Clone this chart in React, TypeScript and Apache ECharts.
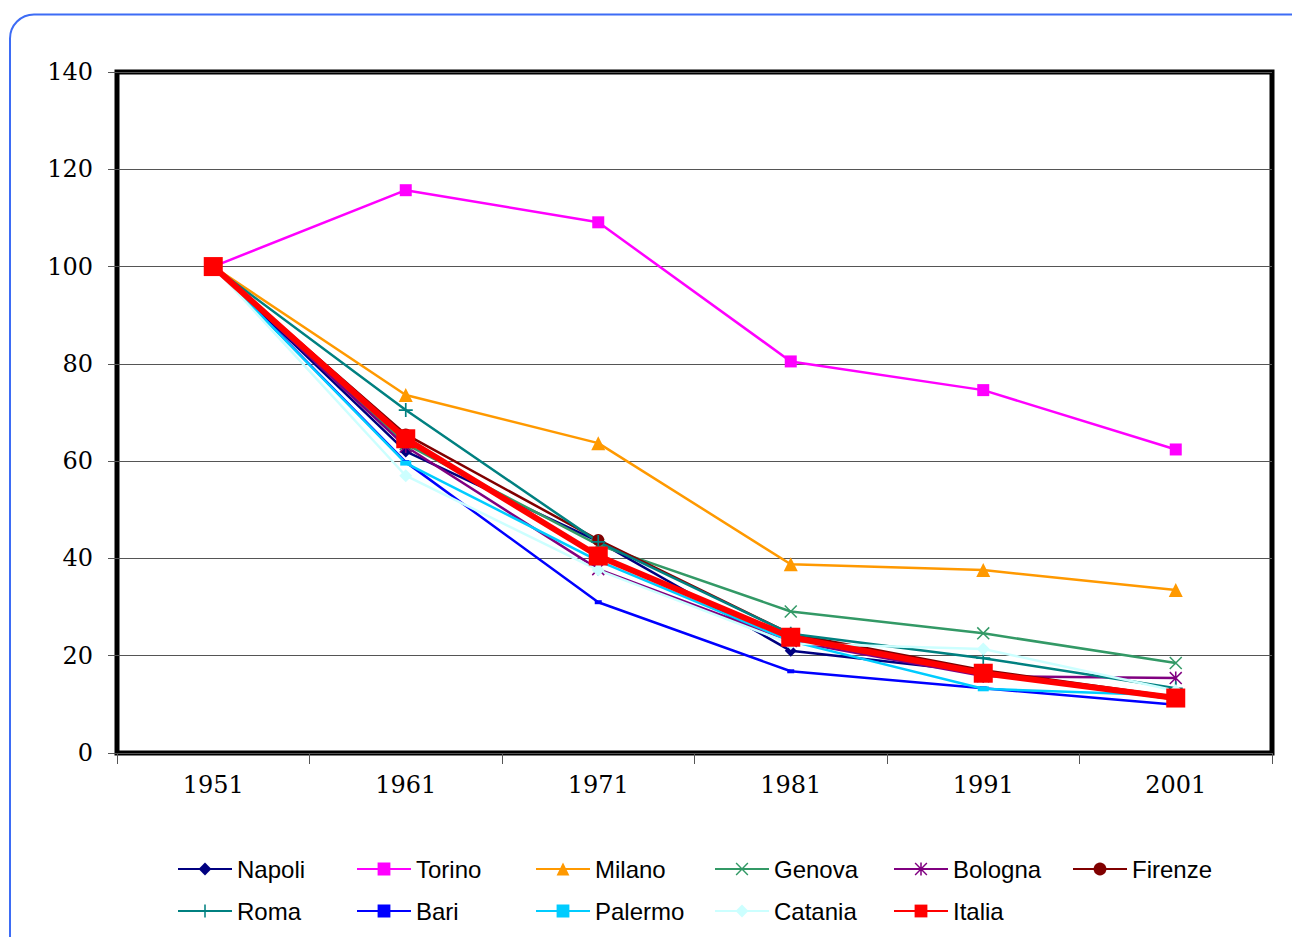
import React, { useEffect, useRef } from "react";
import * as echarts from "echarts";

const years = ["1951", "1961", "1971", "1981", "1991", "2001"];

const napoli = [100, 62, 43.5, 21, 16.6, 11];
const torino = [100, 115.7, 109.1, 80.5, 74.6, 62.4];
const milano = [100, 73.6, 63.7, 38.8, 37.6, 33.5];
const genova = [100, 63.5, 42.8, 29.1, 24.6, 18.5];
const bologna = [100, 63, 37.8, 23, 15.8, 15.4];
const firenze = [100, 65.5, 43.8, 24.5, 17, 11.5];
const roma = [100, 70.5, 43.4, 24.5, 19.5, 13.3];
const bari = [100, 59.8, 31, 16.8, 13.3, 9.9];
const palermo = [100, 59.6, 39.5, 23, 13.2, 11.8];
const catania = [100, 57, 37.6, 22.5, 21.4, 12.8];
const italia = [100, 64.6, 40.5, 23.8, 16.4, 11.3];

const PLUS = "path://M4.4,0H5.6V10H4.4Z M0,4.4H10V5.6H0Z";
const CROSS = "path://M0.8,0L10,9.2L9.2,10L0,0.8Z M9.2,0L10,0.8L0.8,10L0,9.2Z";
const STAR = "path://M0.8,0L10,9.2L9.2,10L0,0.8Z M9.2,0L10,0.8L0.8,10L0,9.2Z M4.4,0H5.6V10H4.4Z";

const seriesDefs = [
  { name: "Napoli", data: napoli, color: "#000080", symbol: "diamond", size: 12, width: 2.5 },
  { name: "Torino", data: torino, color: "#FF00FF", symbol: "rect", size: 12, width: 2.5 },
  { name: "Milano", data: milano, color: "#FF9900", symbol: "triangle", size: 14, width: 2.5 },
  { name: "Genova", data: genova, color: "#339966", symbol: CROSS, size: 13, width: 2.5 },
  { name: "Bologna", data: bologna, color: "#800080", symbol: STAR, size: 13, width: 2.5 },
  { name: "Firenze", data: firenze, color: "#800000", symbol: "circle", size: 12, width: 2.5 },
  { name: "Roma", data: roma, color: "#008080", symbol: PLUS, size: 14, width: 2.5 },
  { name: "Bari", data: bari, color: "#0000FF", symbol: "rect", size: [7, 4], width: 2.5 },
  { name: "Palermo", data: palermo, color: "#00CCFF", symbol: "rect", size: [11, 5], width: 2.5 },
  { name: "Catania", data: catania, color: "#CCFFFF", symbol: "diamond", size: 13, width: 2.5 },
  { name: "Italia", data: italia, color: "#FF0000", symbol: "rect", size: 19, width: 6 },
];

const legendColumns = [
  ["Napoli", "Roma"],
  ["Torino", "Bari"],
  ["Milano", "Palermo"],
  ["Genova", "Catania"],
  ["Bologna", "Italia"],
  ["Firenze"],
];
const legendLefts = [177, 356, 535, 714, 893, 1072];

export default function App() {
  const ref = useRef<HTMLDivElement>(null);
  useEffect(() => {
    if (!ref.current) return;
    const chart = echarts.init(ref.current, undefined, { renderer: "svg" });
    const serif = "'DejaVu Serif', serif";
    chart.setOption({
      animation: false,
      backgroundColor: "#fff",
      graphic: [
        {
          type: "rect",
          z: -10,
          shape: { x: 10, y: 14.5, width: 1400, height: 1000, r: 24 },
          style: { fill: "none", stroke: "#3d6cf5", lineWidth: 2 },
        },
      ],
      grid: {
        left: 117,
        top: 72,
        width: 1155,
        height: 681,
        show: true,
        borderColor: "#000",
        borderWidth: 5,
        backgroundColor: "transparent",
      },
      xAxis: {
        type: "category",
        data: years,
        boundaryGap: true,
        axisLine: { show: false },
        axisTick: { show: true, length: 11, lineStyle: { color: "#555", width: 1 } },
        axisLabel: { fontFamily: serif, fontSize: 24, color: "#000", margin: 20 },
        splitLine: { show: false },
      },
      yAxis: {
        type: "value",
        min: 0,
        max: 140,
        interval: 20,
        axisLine: { show: false },
        axisTick: { show: true, length: 9, lineStyle: { color: "#555", width: 1 } },
        axisLabel: { fontFamily: serif, fontSize: 24, color: "#000", margin: 24 },
        splitLine: { show: true, lineStyle: { color: "#555", width: 1.2 } },
      },
      legend: legendColumns.map((col, i) => ({
        orient: "vertical",
        left: legendLefts[i],
        top: 857,
        padding: 0,
        itemWidth: 54,
        itemHeight: 16,
        itemGap: 18,
        data: col,
        textStyle: {
          fontFamily: "'Liberation Sans', Arial, sans-serif",
          fontSize: 24,
          lineHeight: 24,
          color: "#000",
          padding: [0, 0, 0, 0],
        },
      })),
      series: seriesDefs.map((s) => ({
        name: s.name,
        type: "line",
        data: s.data,
        symbol: s.symbol,
        symbolSize: s.size,
        showSymbol: true,
        lineStyle: { color: s.color, width: s.width },
        itemStyle: { color: s.color },
        emphasis: { disabled: true },
      })),
    });
    return () => chart.dispose();
  }, []);
  return (
    <div
      ref={ref}
      style={{ position: "absolute", left: 0, top: 0, width: 1292, height: 937 }}
    />
  );
}
